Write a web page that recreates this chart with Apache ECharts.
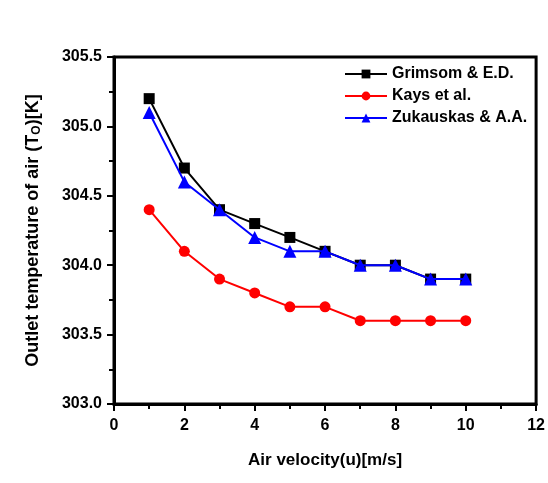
<!DOCTYPE html>
<html>
<head>
<meta charset="utf-8">
<script src="https://cdn.jsdelivr.net/npm/echarts@6/dist/echarts.min.js"></script>
<style>
  html, body { margin: 0; padding: 0; background: #ffffff; }
  #chart { width: 548px; height: 483px; }
</style>
</head>
<body>
<div id="chart"></div>
<script>
// Air velocity (m/s)
const velocity = [1, 2, 3, 4, 5, 6, 7, 8, 9, 10];
// Outlet air temperature (K) from each correlation
const grimsom = [305.2, 304.7, 304.4, 304.3, 304.2, 304.1, 304.0, 304.0, 303.9, 303.9];
const kays = [304.4, 304.1, 303.9, 303.8, 303.7, 303.7, 303.6, 303.6, 303.6, 303.6];
const zukauskas = [305.1, 304.6, 304.4, 304.2, 304.1, 304.1, 304.0, 304.0, 303.9, 303.9];

const pairs = ys => velocity.map((x, i) => [x, ys[i]]);
const font = 'Liberation Sans, Arial, sans-serif';

const chart = echarts.init(document.getElementById('chart'));
chart.setOption({
  backgroundColor: '#ffffff',
  animation: false,
  grid: {
    left: 114, right: 7, top: 57, bottom: 79,
    show: true, borderColor: '#000', borderWidth: 3
  },
  legend: {
    top: 61, left: 339,
    orient: 'vertical',
    itemGap: 6,
    itemWidth: 42, itemHeight: 11,
    textStyle: { fontFamily: font, fontWeight: 'bold', fontSize: 16, color: '#000' },
    data: ['Grimsom & E.D.', 'Kays et al.', 'Zukauskas & A.A.']
  },
  xAxis: {
    type: 'value', min: 0, max: 12, interval: 2,
    name: 'Air velocity(u)[m/s]', nameLocation: 'middle', nameGap: 48,
    nameTextStyle: { fontFamily: font, fontWeight: 'bold', fontSize: 17, color: '#000' },
    axisLine: { lineStyle: { color: '#000', width: 3 } },
    axisTick: { inside: false, length: 7, lineStyle: { color: '#000', width: 2 } },
    minorTick: { show: true, splitNumber: 2, length: 5, lineStyle: { color: '#000', width: 2 } },
    axisLabel: { fontFamily: font, fontWeight: 'bold', fontSize: 16, color: '#000', margin: 14 },
    splitLine: { show: false }
  },
  yAxis: {
    type: 'value', min: 303.0, max: 305.5, interval: 0.5,
    name: 'Outlet temperature of air (T{sub|O})[K]', nameLocation: 'middle', nameGap: 71,
    nameTextStyle: {
      fontFamily: font, fontWeight: 'bold', fontSize: 18, color: '#000',
      rich: { sub: { fontFamily: font, fontWeight: 'bold', fontSize: 12, verticalAlign: 'bottom', padding: [8, 0, 0, 0] } }
    },
    axisLine: { lineStyle: { color: '#000', width: 3 } },
    axisTick: { inside: false, length: 7, lineStyle: { color: '#000', width: 2 } },
    minorTick: { show: true, splitNumber: 2, length: 5, lineStyle: { color: '#000', width: 2 } },
    axisLabel: {
      fontFamily: font, fontWeight: 'bold', fontSize: 16, color: '#000', margin: 12,
      formatter: v => v.toFixed(1)
    },
    splitLine: { show: false }
  },
  series: [
    {
      name: 'Grimsom & E.D.', type: 'line', data: pairs(grimsom),
      symbol: 'rect', symbolSize: 11,
      itemStyle: { color: '#000' }, lineStyle: { color: '#000', width: 2 }, z: 3
    },
    {
      name: 'Kays et al.', type: 'line', data: pairs(kays),
      symbol: 'circle', symbolSize: 11,
      itemStyle: { color: '#ff0000' }, lineStyle: { color: '#ff0000', width: 2 }, z: 2
    },
    {
      name: 'Zukauskas & A.A.', type: 'line', data: pairs(zukauskas),
      symbol: 'triangle', symbolSize: 13,
      itemStyle: { color: '#0000ff' }, lineStyle: { color: '#0000ff', width: 2 }, z: 4
    }
  ]
});
</script>
</body>
</html>
